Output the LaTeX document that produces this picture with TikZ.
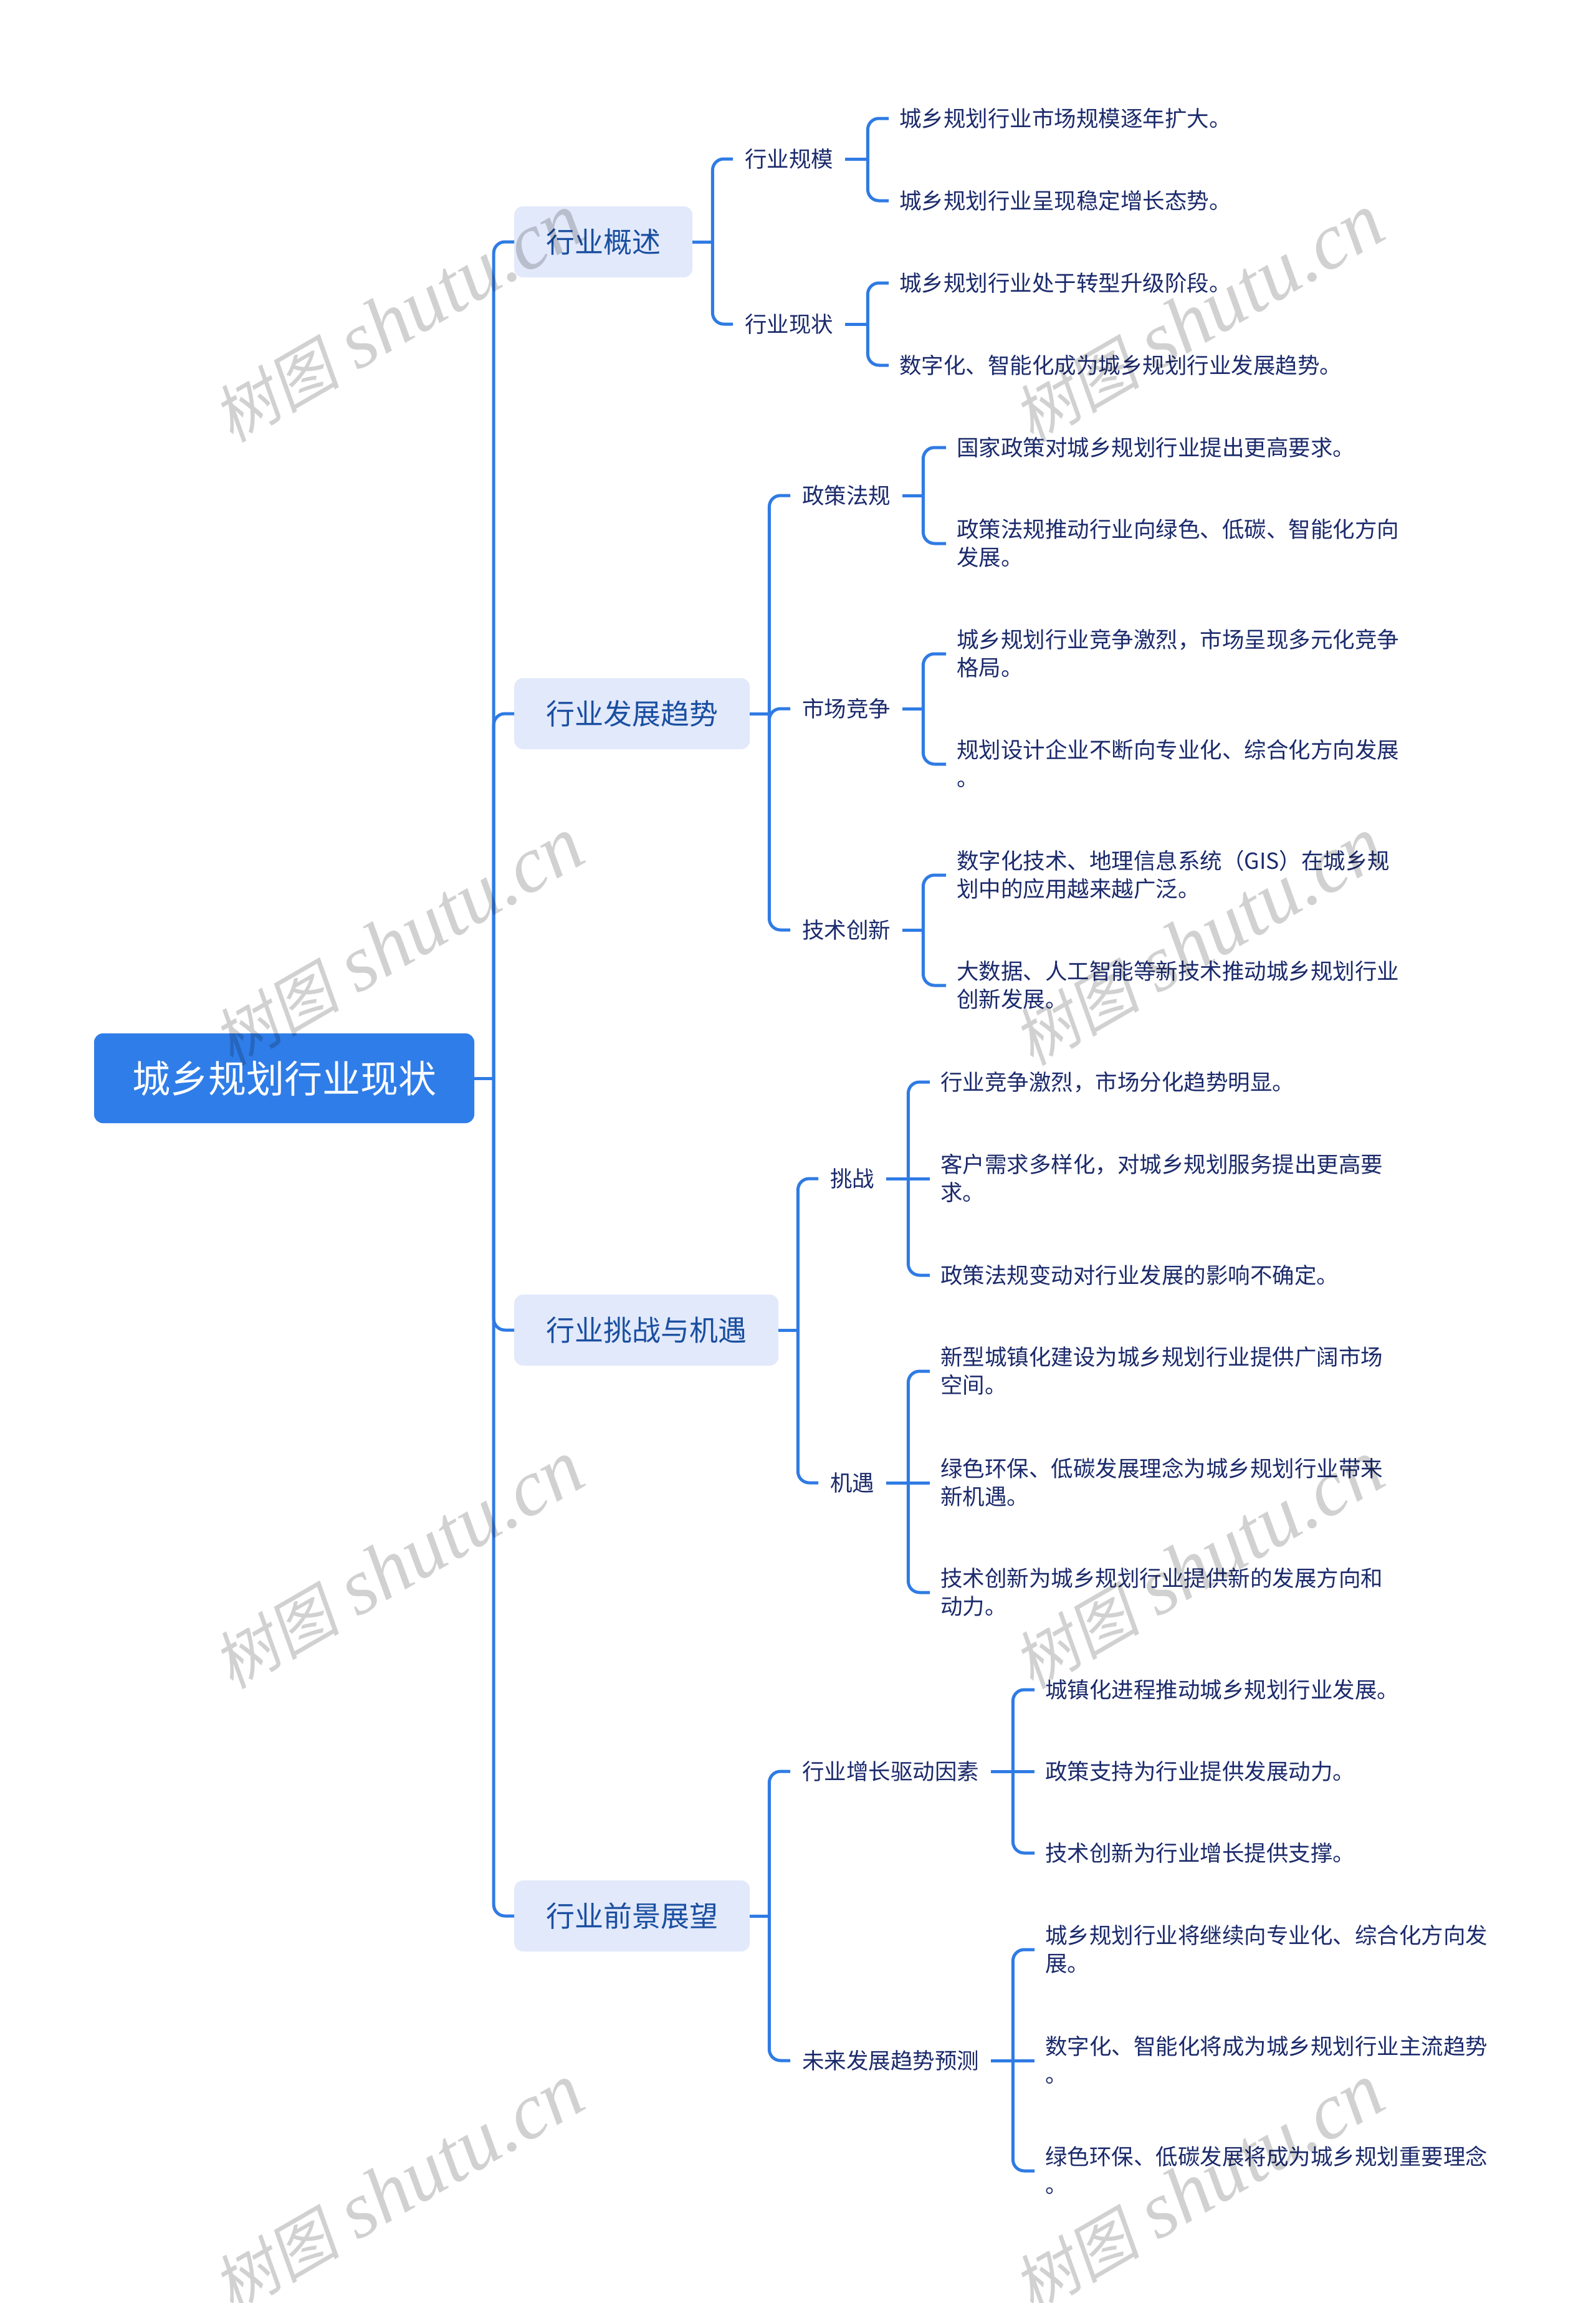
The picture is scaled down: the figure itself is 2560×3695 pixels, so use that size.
\documentclass[tikz,border=0pt]{standalone}
\usepackage{fontspec}
\setmainfont{Noto Sans CJK SC}
\newfontfamily\wmcjk[FakeSlant=0.18]{Noto Sans CJK SC}
\newfontfamily\wmlat{Liberation Serif}
\definecolor{connc}{HTML}{2F7BE4}
\definecolor{rootc}{HTML}{2F7DE8}
\definecolor{boxc}{HTML}{E2E9FB}
\definecolor{midt}{HTML}{1A4FA0}
\definecolor{leaft}{HTML}{1B2A6B}
\newcommand{\strutL}{\rule[-4.5pt]{0pt}{36pt}}
\tikzset{
  rootbox/.style={rectangle,rounded corners=14pt,fill=rootc,text=white,minimum width=610pt,minimum height=144pt,inner sep=0pt,font=\fontsize{61}{70}\selectfont},
  topicbox/.style={rectangle,rounded corners=14pt,fill=boxc,text=midt,anchor=west,minimum height=114pt,inner xsep=51pt,inner ysep=0pt,font=\fontsize{46}{56}\selectfont},
  subnode/.style={rectangle,anchor=west,text=leaft,inner xsep=19pt,inner ysep=2pt,font=\fontsize{35.5}{45}\selectfont,execute at begin node=\strutL},
  leafnode/.style={rectangle,anchor=west,text=leaft,align=left,inner xsep=17pt,inner ysep=2pt,font=\fontsize{35.5}{45}\selectfont,execute at begin node=\strutL},
  conn/.style={draw=connc,line width=5pt,rounded corners=18pt},
  wmark/.style={rotate=30,text=black,opacity=0.18,inner sep=0pt}
}
\newcommand{\wmtext}{{\wmcjk\fontsize{102}{110}\selectfont 树图}\hspace{28pt}{\wmlat\itshape\fontsize{128}{140}\selectfont shutu.cn}}
\begin{document}
\begin{tikzpicture}[x=1pt,y=-1pt]
\useasboundingbox (0,0) rectangle (2560,3695);
\fill[white] (0,0) rectangle (2560,3695);

\node[rootbox] (root) at (456,1730) {城乡规划行业现状};
\node[topicbox] (t1) at (825,388) {行业概述};
\node[topicbox] (t2) at (825,1145) {行业发展趋势};
\node[topicbox] (t3) at (825,2134) {行业挑战与机遇};
\node[topicbox] (t4) at (825,3074) {行业前景展望};

% branch 1
\node[subnode] (a1) at (1176,255) {行业规模};
\node[subnode] (a2) at (1176,520) {行业现状};
\node[leafnode] (a11) at (1426,190) {城乡规划行业市场规模逐年扩大。};
\node[leafnode] (a12) at (1426,322) {城乡规划行业呈现稳定增长态势。};
\node[leafnode] (a21) at (1426,454) {城乡规划行业处于转型升级阶段。};
\node[leafnode] (a22) at (1426,586) {数字化、智能化成为城乡规划行业发展趋势。};

% branch 2
\node[subnode] (b1) at (1268,795) {政策法规};
\node[subnode] (b2) at (1268,1137) {市场竞争};
\node[subnode] (b3) at (1268,1492) {技术创新};
\node[leafnode] (b11) at (1518,718) {国家政策对城乡规划行业提出更高要求。};
\node[leafnode] (b12) at (1518,872) {政策法规推动行业向绿色、低碳、智能化方向\\\strutL 发展。};
\node[leafnode] (b21) at (1518,1049) {城乡规划行业竞争激烈，市场呈现多元化竞争\\\strutL 格局。};
\node[leafnode] (b22) at (1518,1226) {规划设计企业不断向专业化、综合化方向发展\\\strutL 。};
\node[leafnode] (b31) at (1518,1404) {数字化技术、地理信息系统（GIS）在城乡规\\\strutL 划中的应用越来越广泛。};
\node[leafnode] (b32) at (1518,1581) {大数据、人工智能等新技术推动城乡规划行业\\\strutL 创新发展。};

% branch 3
\node[subnode] (c1) at (1313,1891) {挑战};
\node[subnode] (c2) at (1313,2379) {机遇};
\node[leafnode] (c11) at (1492,1736) {行业竞争激烈，市场分化趋势明显。};
\node[leafnode] (c12) at (1492,1891) {客户需求多样化，对城乡规划服务提出更高要\\\strutL 求。};
\node[leafnode] (c13) at (1492,2046) {政策法规变动对行业发展的影响不确定。};
\node[leafnode] (c21) at (1492,2200) {新型城镇化建设为城乡规划行业提供广阔市场\\\strutL 空间。};
\node[leafnode] (c22) at (1492,2379) {绿色环保、低碳发展理念为城乡规划行业带来\\\strutL 新机遇。};
\node[leafnode] (c23) at (1492,2555) {技术创新为城乡规划行业提供新的发展方向和\\\strutL 动力。};

% branch 4
\node[subnode] (d1) at (1268,2842) {行业增长驱动因素};
\node[subnode] (d2) at (1268,3306) {未来发展趋势预测};
\node[leafnode] (d11) at (1660,2711) {城镇化进程推动城乡规划行业发展。};
\node[leafnode] (d12) at (1660,2842) {政策支持为行业提供发展动力。};
\node[leafnode] (d13) at (1660,2973) {技术创新为行业增长提供支撑。};
\node[leafnode] (d21) at (1660,3128) {城乡规划行业将继续向专业化、综合化方向发\\\strutL 展。};
\node[leafnode] (d22) at (1660,3306) {数字化、智能化将成为城乡规划行业主流趋势\\\strutL 。};
\node[leafnode] (d23) at (1660,3483) {绿色环保、低碳发展将成为城乡规划重要理念\\\strutL 。};

% connectors: a straight stub from the parent, then a branch to each child
\draw[conn] (root.east) -- ++(31,0) coordinate (jr);
\foreach \c in {t1,t2,t3,t4} \draw[conn] (jr) |- (\c.west);

\draw[conn] (t1.east) -- ++(32,0) coordinate (j1);
\foreach \c in {a1,a2} \draw[conn] (j1) |- (\c.west);
\draw[conn] (a1.east) -- ++(36,0) coordinate (ja1);
\foreach \c in {a11,a12} \draw[conn] (ja1) |- (\c.west);
\draw[conn] (a2.east) -- ++(36,0) coordinate (ja2);
\foreach \c in {a21,a22} \draw[conn] (ja2) |- (\c.west);

\draw[conn] (t2.east) -- ++(31,0) coordinate (j2);
\foreach \c in {b1,b2,b3} \draw[conn] (j2) |- (\c.west);
\draw[conn] (b1.east) -- ++(33,0) coordinate (jb1);
\foreach \c in {b11,b12} \draw[conn] (jb1) |- (\c.west);
\draw[conn] (b2.east) -- ++(33,0) coordinate (jb2);
\foreach \c in {b21,b22} \draw[conn] (jb2) |- (\c.west);
\draw[conn] (b3.east) -- ++(33,0) coordinate (jb3);
\foreach \c in {b31,b32} \draw[conn] (jb3) |- (\c.west);

\draw[conn] (t3.east) -- ++(31,0) coordinate (j3);
\foreach \c in {c1,c2} \draw[conn] (j3) |- (\c.west);
\draw[conn] (c1.east) -- ++(35,0) coordinate (jc1);
\foreach \c in {c11,c13} \draw[conn] (jc1) |- (\c.west);
\draw[conn] (jc1) -- (c12.west);
\draw[conn] (c2.east) -- ++(35,0) coordinate (jc2);
\foreach \c in {c21,c23} \draw[conn] (jc2) |- (\c.west);
\draw[conn] (jc2) -- (c22.west);

\draw[conn] (t4.east) -- ++(31,0) coordinate (j4);
\foreach \c in {d1,d2} \draw[conn] (j4) |- (\c.west);
\draw[conn] (d1.east) -- ++(35,0) coordinate (jd1);
\foreach \c in {d11,d13} \draw[conn] (jd1) |- (\c.west);
\draw[conn] (jd1) -- (d12.west);
\draw[conn] (d2.east) -- ++(35,0) coordinate (jd2);
\foreach \c in {d21,d23} \draw[conn] (jd2) |- (\c.west);
\draw[conn] (jd2) -- (d22.west);

% watermarks
\begin{scope}
\clip (0,0) rectangle (2560,3695);
\foreach \yy [count=\i] in {511,1511,2511,3511} {
  \node[wmark] (wl\i) at (639,\yy) {\wmtext};
  \node[wmark] (wr\i) at (1923,\yy) {\wmtext};
}
\end{scope}
\end{tikzpicture}
\end{document}
